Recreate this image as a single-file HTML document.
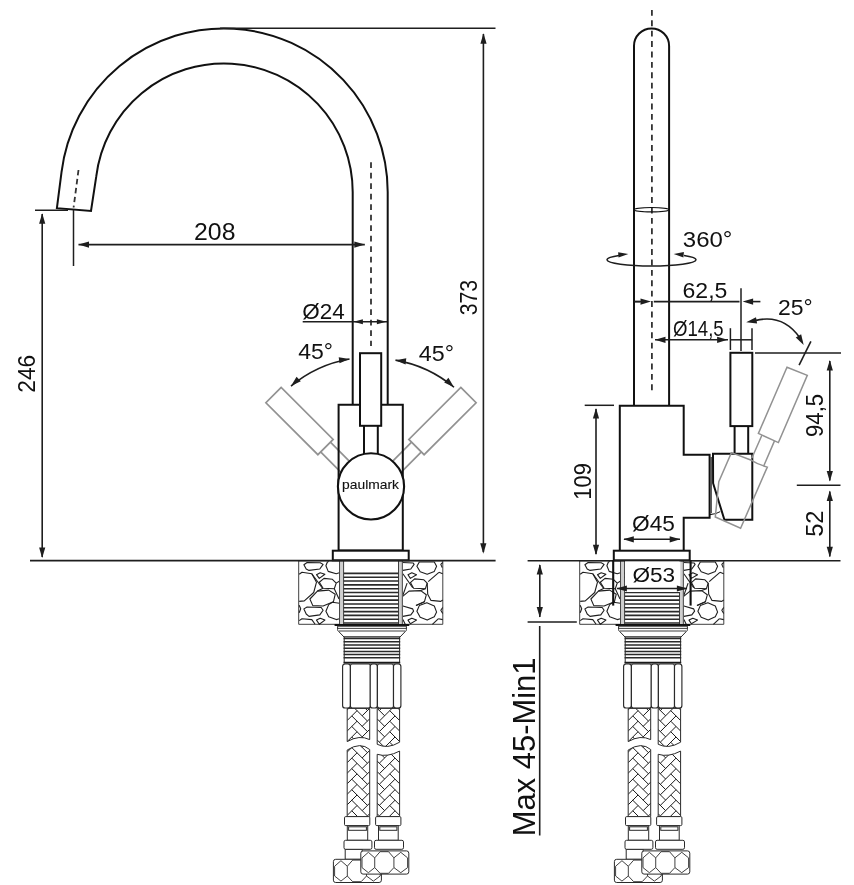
<!DOCTYPE html>
<html><head><meta charset="utf-8"><title>Faucet drawing</title>
<style>
html,body{margin:0;padding:0;background:#fff;}
svg{display:block;will-change:transform;}
text{font-family:"Liberation Sans",sans-serif;fill:#111;}
</style></head><body>
<svg width="854" height="885" viewBox="0 0 854 885">
<rect width="854" height="885" fill="#fff"/>
<path d="M387.70,404.8 L387.70,192.10 A163.7,163.7 0 0 0 61.52,172.15 L56.9,208.2 L91.0,211.0 L96.26,176.42 A128.7,128.7 0 0 1 352.70,192.10 L352.70,404.8" fill="none" stroke="#111" stroke-width="2" stroke-linejoin="miter"/>
<line x1="78.50" y1="170.00" x2="73.60" y2="207.50" stroke="#333" stroke-width="1.8" stroke-dasharray="5.5 3.5"/>
<line x1="371.00" y1="162.20" x2="371.00" y2="346.00" stroke="#333" stroke-width="1.8" stroke-dasharray="5.8 4.7"/>
<g fill="none" stroke="#929292" stroke-width="1.7"><path d="M281.19,387.46 L265.91,402.74 L317.89,454.71 L333.16,439.44 Z"/><path d="M330.40,442.19 L353.74,465.53 M320.64,451.95 L343.98,475.29"/></g>
<g fill="none" stroke="#929292" stroke-width="1.7"><path d="M460.81,387.46 L476.09,402.74 L424.11,454.71 L408.84,439.44 Z"/><path d="M411.60,442.19 L388.26,465.53 M421.36,451.95 L398.02,475.29"/></g>
<path d="M338.6,404.8 H402.8 V550.6 H338.6 Z" fill="none" stroke="#111" stroke-width="2"/>
<rect x="360" y="353.2" width="21.2" height="72.6" fill="#fff" stroke="#111" stroke-width="2"/>
<path d="M364.0,426 V454 M377.8,426 V454" stroke="#111" stroke-width="2" fill="none"/>
<circle cx="371" cy="486.4" r="33.1" fill="#fff" stroke="#111" stroke-width="2.1"/>
<text stroke="#111" stroke-width="0.12" transform="translate(342.11,488.80) scale(1.1523,1)" font-size="12">paulmark</text>
<g id="lower"><g transform="translate(298.7,560.8)" fill="none" stroke="#1e1e1e" stroke-width="1.1" stroke-linejoin="round"><rect x="0" y="0" width="40.8" height="63.5" fill="#fff" stroke="#2a2a2a" stroke-width="0.9"/><path d="M5.2,4.0 L8.4,1.7 L21.5,1.9 L24.4,3.6 L21.1,8.2 L10.3,9.6 L7.5,8.2 Z"/><path d="M30,0.6 L28.6,1.5 L27.2,5.0 L29.5,10.6 L37.5,12.9 L40.7,12.0"/><path d="M17.8,13.9 L21.5,12.0 L26.2,13.4 L20.6,17.6 Z"/><path d="M0.5,13.4 L3.3,11.5 L13.1,12.9 L17.8,21.4 L15.0,31.7 L5.6,40.1 L0.5,40.6"/><path d="M20.6,21.4 L25.3,17.6 L33.7,18.5 L37.5,22.3 L35.6,27.9 L24.4,27.4 Z"/><path d="M11.2,38.2 L18.7,30.3 L30.0,29.3 L36.5,33.5 L34.7,41.0 L24.4,45.2 L14.1,44.8 Z"/><path d="M40.7,42.4 L33.7,41.5 L30.0,43.8 L27.2,50.4 L30.0,56.0 L37.5,58.8 L40.7,57.9"/><path d="M5.2,48.1 L8.4,46.2 L22.5,46.7 L24.4,49.5 L21.1,54.1 L10.3,55.6 L7.5,53.2 Z"/><path d="M0.5,59.8 L3.3,57.9 L13.1,58.8 L16.4,63.5"/><path d="M17.8,59.3 L21.5,57.4 L26.2,59.3 L20.6,63.5 Z"/><path d="M0.5,44.5 L2,48 L0.5,52"/><path d="M13.1,12.9 L23.4,27.0"/><path d="M35.6,27.9 L40.3,38.2"/><path d="M37.5,22.3 L40.5,20.5"/><path d="M18.7,30.3 L24.4,27.4"/></g>
<g transform="translate(402.4,560.8)" fill="none" stroke="#1e1e1e" stroke-width="1.1" stroke-linejoin="round"><rect x="0" y="0" width="40.4" height="63.5" fill="#fff" stroke="#2a2a2a" stroke-width="0.9"/><path d="M0,1.7 L10.8,2.2 L11.7,3.6 L8.4,8.2 L0.5,9.6"/><path d="M14.5,5.4 L16.9,1.2 L31.9,1.2 L34.2,5.4 L31.9,10.6 L24.8,13.4 L17.8,11.0 Z"/><path d="M40.3,1.7 L38.4,3.6 L39.8,6.8"/><path d="M5.6,13.9 L9.4,12.0 L14.1,13.9 L8.0,17.6 Z"/><path d="M8.0,21.8 L12.2,18.1 L21.5,19.0 L24.8,22.3 L23.0,27.9 L11.2,27.4 Z"/><path d="M24.8,22.3 L25.3,33.5 L28.6,39.6 L38.4,40.6 L40.3,39.2"/><path d="M0,35.9 L6.6,30.3 L18.3,29.8 L23.9,34.0 L22.0,41.0 L13.6,44.8"/><path d="M14.5,50.4 L16.9,44.8 L24.4,42.0 L31.9,45.2 L34.2,51.3 L31.9,56.0 L24.8,59.3 L17.8,56.5 Z"/><path d="M0.5,45.2 L10.3,48.1 L11.2,50.4 L8.4,54.1 L0.5,55.6"/><path d="M40.3,46.7 L38.4,49.5 L40.3,52.7"/><path d="M5.6,59.3 L9.4,57.4 L14.1,59.3 L8.0,63 Z"/><path d="M0.5,12.9 L10.3,27.0"/><path d="M25.8,20.9 L36.5,11.5"/><path d="M36.5,11.5 L40.3,12.9"/><path d="M4.7,22.3 L0.5,34.5"/><path d="M30.0,63.5 L36.1,57.9"/><path d="M36.1,57.9 L40.3,58.8"/><path d="M0.5,58.8 L2.8,63.5"/><path d="M22.0,41.0 L13.6,44.8"/><path d="M18.3,29.8 L23.0,27.9"/></g>
<rect x="339.5" y="561" width="63.3" height="63.5" fill="#fff"/>
<rect x="340.6" y="561" width="3.2" height="63" fill="#cfcfcf"/>
<rect x="398.6" y="561" width="3.2" height="63" fill="#cfcfcf"/>
<line x1="339.70" y1="561.00" x2="339.70" y2="624.00" stroke="#2a2a2a" stroke-width="0.9" />
<line x1="343.60" y1="561.00" x2="343.60" y2="624.00" stroke="#2a2a2a" stroke-width="0.9" />
<line x1="398.50" y1="561.00" x2="398.50" y2="624.00" stroke="#2a2a2a" stroke-width="0.9" />
<line x1="402.30" y1="561.00" x2="402.30" y2="624.00" stroke="#2a2a2a" stroke-width="0.9" />
<line x1="343.80" y1="573.40" x2="398.40" y2="573.40" stroke="#2a2a2a" stroke-width="1.6" />
<line x1="343.80" y1="577.22" x2="398.40" y2="577.22" stroke="#2a2a2a" stroke-width="1.6" />
<line x1="343.80" y1="581.04" x2="398.40" y2="581.04" stroke="#2a2a2a" stroke-width="1.6" />
<line x1="343.80" y1="584.86" x2="398.40" y2="584.86" stroke="#2a2a2a" stroke-width="1.6" />
<line x1="343.80" y1="588.68" x2="398.40" y2="588.68" stroke="#2a2a2a" stroke-width="1.6" />
<line x1="343.80" y1="592.50" x2="398.40" y2="592.50" stroke="#2a2a2a" stroke-width="1.6" />
<line x1="343.80" y1="596.32" x2="398.40" y2="596.32" stroke="#2a2a2a" stroke-width="1.6" />
<line x1="343.80" y1="600.14" x2="398.40" y2="600.14" stroke="#2a2a2a" stroke-width="1.6" />
<line x1="343.80" y1="603.96" x2="398.40" y2="603.96" stroke="#2a2a2a" stroke-width="1.6" />
<line x1="343.80" y1="607.78" x2="398.40" y2="607.78" stroke="#2a2a2a" stroke-width="1.6" />
<line x1="343.80" y1="611.60" x2="398.40" y2="611.60" stroke="#2a2a2a" stroke-width="1.6" />
<line x1="343.80" y1="615.42" x2="398.40" y2="615.42" stroke="#2a2a2a" stroke-width="1.6" />
<line x1="343.80" y1="619.24" x2="398.40" y2="619.24" stroke="#2a2a2a" stroke-width="1.6" />
<line x1="343.80" y1="623.06" x2="398.40" y2="623.06" stroke="#2a2a2a" stroke-width="1.6" />
<line x1="334.60" y1="625.00" x2="409.30" y2="625.00" stroke="#111" stroke-width="2.2" />
<path d="M337.6,626.2 H406.4 V629.6 Q406.4,630.8 405.4,631.4 L400,637 H344 L338.6,631.4 Q337.6,630.8 337.6,629.6 Z" fill="#fff" stroke="#2a2a2a" stroke-width="1"/>
<line x1="337.80" y1="628.40" x2="406.20" y2="628.40" stroke="#2a2a2a" stroke-width="0.9" />
<line x1="338.80" y1="631.00" x2="405.20" y2="631.00" stroke="#2a2a2a" stroke-width="0.9" />
<rect x="344.2" y="637" width="55.4" height="25.8" fill="#fff" stroke="#2a2a2a" stroke-width="1"/>
<line x1="343.60" y1="638.60" x2="400.20" y2="638.60" stroke="#2a2a2a" stroke-width="1.5" />
<line x1="343.60" y1="641.80" x2="400.20" y2="641.80" stroke="#2a2a2a" stroke-width="1.5" />
<line x1="343.60" y1="645.00" x2="400.20" y2="645.00" stroke="#2a2a2a" stroke-width="1.5" />
<line x1="343.60" y1="648.20" x2="400.20" y2="648.20" stroke="#2a2a2a" stroke-width="1.5" />
<line x1="343.60" y1="651.40" x2="400.20" y2="651.40" stroke="#2a2a2a" stroke-width="1.5" />
<line x1="343.60" y1="654.60" x2="400.20" y2="654.60" stroke="#2a2a2a" stroke-width="1.5" />
<line x1="343.60" y1="657.80" x2="400.20" y2="657.80" stroke="#2a2a2a" stroke-width="1.5" />
<line x1="343.60" y1="662.60" x2="400.20" y2="662.60" stroke="#1a1a1a" stroke-width="1.7" />
<rect x="342.6" y="664" width="7.80" height="44" rx="2.6" fill="#fff" stroke="#2a2a2a" stroke-width="1.15"/>
<rect x="350.4" y="664" width="20.00" height="44" rx="2.0" fill="#fff" stroke="#2a2a2a" stroke-width="1.15"/>
<rect x="370.2" y="664" width="7.20" height="44" rx="2.6" fill="#fff" stroke="#2a2a2a" stroke-width="1.15"/>
<rect x="377.4" y="664" width="16.10" height="44" rx="2.0" fill="#fff" stroke="#2a2a2a" stroke-width="1.15"/>
<rect x="393.5" y="664" width="7.40" height="44" rx="2.6" fill="#fff" stroke="#2a2a2a" stroke-width="1.15"/>
<clipPath id="hcL"><path d="M347.2,708.4 H369.7 V739.6 Q359.45,734.5 347.2,741.6 Z M347.2,750 Q360.45,741.5 369.7,749.5 V816.6 H347.2 Z"/></clipPath><g clip-path="url(#hcL)"><rect x="347.2" y="708.4" width="22.5" height="108.20000000000005" fill="#fff"/><g stroke="#1a1a1a" stroke-width="1" fill="none"><path d="M347.20,688.88 L357.05,679.03"/><path d="M351.78,684.31 L367.43,699.96"/><path d="M362.16,694.72 L369.70,687.18"/><path d="M347.20,699.42 L357.05,689.57"/><path d="M351.78,694.85 L367.43,710.50"/><path d="M362.16,705.26 L369.70,697.72"/><path d="M347.20,709.96 L357.05,700.11"/><path d="M351.78,705.39 L367.43,721.04"/><path d="M362.16,715.80 L369.70,708.26"/><path d="M347.20,720.50 L357.05,710.65"/><path d="M351.78,715.93 L367.43,731.58"/><path d="M362.16,726.34 L369.70,718.80"/><path d="M347.20,731.04 L357.05,721.19"/><path d="M351.78,726.47 L367.43,742.12"/><path d="M362.16,736.88 L369.70,729.34"/><path d="M347.20,741.58 L357.05,731.73"/><path d="M351.78,737.01 L367.43,752.66"/><path d="M362.16,747.42 L369.70,739.88"/><path d="M347.20,752.12 L357.05,742.27"/><path d="M351.78,747.55 L367.43,763.20"/><path d="M362.16,757.96 L369.70,750.42"/><path d="M347.20,762.66 L357.05,752.81"/><path d="M351.78,758.09 L367.43,773.74"/><path d="M362.16,768.50 L369.70,760.96"/><path d="M347.20,773.20 L357.05,763.35"/><path d="M351.78,768.63 L367.43,784.28"/><path d="M362.16,779.04 L369.70,771.50"/><path d="M347.20,783.74 L357.05,773.89"/><path d="M351.78,779.17 L367.43,794.82"/><path d="M362.16,789.58 L369.70,782.04"/><path d="M347.20,794.28 L357.05,784.43"/><path d="M351.78,789.71 L367.43,805.36"/><path d="M362.16,800.12 L369.70,792.58"/><path d="M347.20,804.82 L357.05,794.97"/><path d="M351.78,800.25 L367.43,815.90"/><path d="M362.16,810.66 L369.70,803.12"/><path d="M347.20,815.36 L357.05,805.51"/><path d="M351.78,810.79 L367.43,826.44"/><path d="M362.16,821.20 L369.70,813.66"/><path d="M347.20,825.90 L357.05,816.05"/><path d="M351.78,821.33 L367.43,836.98"/><path d="M362.16,831.74 L369.70,824.20"/><path d="M347.20,836.44 L357.05,826.59"/><path d="M351.78,831.87 L367.43,847.52"/><path d="M362.16,842.28 L369.70,834.74"/><path d="M347.20,846.98 L357.05,837.13"/><path d="M351.78,842.41 L367.43,858.06"/><path d="M362.16,852.82 L369.70,845.28"/></g></g><path d="M347.2,708.4 H369.7 V739.6 Q359.45,734.5 347.2,741.6 Z M347.2,750 Q360.45,741.5 369.7,749.5 V816.6 H347.2 Z" fill="none" stroke="#2a2a2a" stroke-width="1"/>
<clipPath id="hcR"><path d="M377.2,708.4 H399.6 V742.2 Q387.4,749.5 377.2,744.3 Z M377.2,754.3 Q387.4,757.5 399.6,751.1 V816.6 H377.2 Z"/></clipPath><g clip-path="url(#hcR)"><rect x="377.2" y="708.4" width="22.400000000000034" height="108.20000000000005" fill="#fff"/><g stroke="#1a1a1a" stroke-width="1" fill="none"><path d="M399.60,688.88 L389.75,679.03"/><path d="M395.02,684.31 L379.37,699.96"/><path d="M384.64,694.72 L377.20,687.28"/><path d="M399.60,699.42 L389.75,689.57"/><path d="M395.02,694.85 L379.37,710.50"/><path d="M384.64,705.26 L377.20,697.82"/><path d="M399.60,709.96 L389.75,700.11"/><path d="M395.02,705.39 L379.37,721.04"/><path d="M384.64,715.80 L377.20,708.36"/><path d="M399.60,720.50 L389.75,710.65"/><path d="M395.02,715.93 L379.37,731.58"/><path d="M384.64,726.34 L377.20,718.90"/><path d="M399.60,731.04 L389.75,721.19"/><path d="M395.02,726.47 L379.37,742.12"/><path d="M384.64,736.88 L377.20,729.44"/><path d="M399.60,741.58 L389.75,731.73"/><path d="M395.02,737.01 L379.37,752.66"/><path d="M384.64,747.42 L377.20,739.98"/><path d="M399.60,752.12 L389.75,742.27"/><path d="M395.02,747.55 L379.37,763.20"/><path d="M384.64,757.96 L377.20,750.52"/><path d="M399.60,762.66 L389.75,752.81"/><path d="M395.02,758.09 L379.37,773.74"/><path d="M384.64,768.50 L377.20,761.06"/><path d="M399.60,773.20 L389.75,763.35"/><path d="M395.02,768.63 L379.37,784.28"/><path d="M384.64,779.04 L377.20,771.60"/><path d="M399.60,783.74 L389.75,773.89"/><path d="M395.02,779.17 L379.37,794.82"/><path d="M384.64,789.58 L377.20,782.14"/><path d="M399.60,794.28 L389.75,784.43"/><path d="M395.02,789.71 L379.37,805.36"/><path d="M384.64,800.12 L377.20,792.68"/><path d="M399.60,804.82 L389.75,794.97"/><path d="M395.02,800.25 L379.37,815.90"/><path d="M384.64,810.66 L377.20,803.22"/><path d="M399.60,815.36 L389.75,805.51"/><path d="M395.02,810.79 L379.37,826.44"/><path d="M384.64,821.20 L377.20,813.76"/><path d="M399.60,825.90 L389.75,816.05"/><path d="M395.02,821.33 L379.37,836.98"/><path d="M384.64,831.74 L377.20,824.30"/><path d="M399.60,836.44 L389.75,826.59"/><path d="M395.02,831.87 L379.37,847.52"/><path d="M384.64,842.28 L377.20,834.84"/><path d="M399.60,846.98 L389.75,837.13"/><path d="M395.02,842.41 L379.37,858.06"/><path d="M384.64,852.82 L377.20,845.38"/></g></g><path d="M377.2,708.4 H399.6 V742.2 Q387.4,749.5 377.2,744.3 Z M377.2,754.3 Q387.4,757.5 399.6,751.1 V816.6 H377.2 Z" fill="none" stroke="#2a2a2a" stroke-width="1"/>
<rect x="345.2" y="849.3" width="17" height="10" fill="#fff" stroke="#2a2a2a" stroke-width="1"/>
<rect x="333.4" y="859.3" width="48" height="23.2" rx="2.3" fill="#fff" stroke="#2a2a2a" stroke-width="1"/><path d="M334.59999999999997,866.26 L340.96,860.6999999999999 L347.32,866.26 V876.0039999999999 L340.96,881.1 L334.59999999999997,876.0039999999999 Z M347.32,866.26 L352.69599999999997,860.0999999999999 H361.144 L366.52,866.26 V876.0039999999999 L361.144,881.7 H352.69599999999997 L347.32,876.0039999999999 M366.52,866.26 L373.36,860.6999999999999 L380.2,866.26 V876.0039999999999 L373.36,881.1 L366.52,876.0039999999999 " fill="none" stroke="#2a2a2a" stroke-width="0.9" stroke-linejoin="round"/>
<rect x="347.3" y="825.6" width="20.40" height="14.7" fill="#fff" stroke="#2a2a2a" stroke-width="1"/>
<rect x="348.6" y="826.8" width="17.80" height="3.5" fill="#fff" stroke="#2a2a2a" stroke-width="1"/>
<rect x="344.5" y="816.6" width="25.30" height="9" rx="1.2" fill="#fff" stroke="#2a2a2a" stroke-width="1"/>
<rect x="344.0" y="840.3" width="27.90" height="9" rx="1.6" fill="#fff" stroke="#2a2a2a" stroke-width="1"/>
<rect x="378.5" y="825.6" width="19.70" height="14.7" fill="#fff" stroke="#2a2a2a" stroke-width="1"/>
<rect x="379.8" y="826.8" width="17.10" height="3.5" fill="#fff" stroke="#2a2a2a" stroke-width="1"/>
<rect x="375.6" y="816.6" width="25.30" height="9" rx="1.2" fill="#fff" stroke="#2a2a2a" stroke-width="1"/>
<rect x="374.5" y="840.3" width="29.00" height="9" rx="1.6" fill="#fff" stroke="#2a2a2a" stroke-width="1"/>
<rect x="360.8" y="850.9" width="48" height="23.2" rx="2.3" fill="#fff" stroke="#2a2a2a" stroke-width="1"/><path d="M362.0,857.86 L368.36,852.3 L374.72,857.86 V867.6039999999999 L368.36,872.7 L362.0,867.6039999999999 Z M374.72,857.86 L380.096,851.6999999999999 H388.54400000000004 L393.92,857.86 V867.6039999999999 L388.54400000000004,873.3000000000001 H380.096 L374.72,867.6039999999999 M393.92,857.86 L400.76,852.3 L407.6,857.86 V867.6039999999999 L400.76,872.7 L393.92,867.6039999999999 " fill="none" stroke="#2a2a2a" stroke-width="0.9" stroke-linejoin="round"/></g>
<rect x="332.8" y="550.7" width="75.9" height="9.6" fill="#fff" stroke="#111" stroke-width="2"/>
<line x1="30.00" y1="560.60" x2="495.60" y2="560.60" stroke="#1e1e1e" stroke-width="1.6" />
<line x1="73.50" y1="210.00" x2="73.50" y2="266.00" stroke="#1e1e1e" stroke-width="1.5" />
<line x1="78.50" y1="244.60" x2="364.80" y2="244.60" stroke="#1e1e1e" stroke-width="1.6" />
<polygon points="78.50,244.60 89.00,241.50 89.00,247.70" fill="#1e1e1e"/>
<polygon points="364.80,244.60 354.30,247.70 354.30,241.50" fill="#1e1e1e"/>
<text transform="translate(194.05,239.50) scale(1.0611,1)" font-size="23.4">208</text>
<line x1="35.00" y1="210.30" x2="68.00" y2="210.30" stroke="#1e1e1e" stroke-width="1.5" />
<line x1="42.20" y1="214.00" x2="42.20" y2="557.00" stroke="#1e1e1e" stroke-width="1.6" />
<polygon points="42.20,213.30 45.30,223.80 39.10,223.80" fill="#1e1e1e"/>
<polygon points="42.20,558.00 39.10,547.50 45.30,547.50" fill="#1e1e1e"/>
<text transform="translate(35.30,392.74) rotate(-90) scale(0.9719,1)" font-size="23.4">246</text>
<line x1="220.00" y1="28.20" x2="495.50" y2="28.20" stroke="#1e1e1e" stroke-width="1.6" />
<line x1="483.40" y1="34.00" x2="483.40" y2="552.00" stroke="#1e1e1e" stroke-width="1.6" />
<polygon points="483.50,33.20 486.60,43.70 480.40,43.70" fill="#1e1e1e"/>
<polygon points="483.30,553.70 480.20,543.20 486.40,543.20" fill="#1e1e1e"/>
<text transform="translate(477.20,315.31) rotate(-90) scale(0.9078,1)" font-size="23.4">373</text>
<line x1="302.70" y1="321.80" x2="352.40" y2="321.80" stroke="#1e1e1e" stroke-width="1.5" />
<line x1="353.00" y1="321.80" x2="387.00" y2="321.80" stroke="#1e1e1e" stroke-width="1.5" />
<polygon points="353.40,321.80 362.90,319.30 362.90,324.30" fill="#1e1e1e"/>
<polygon points="386.40,321.80 376.90,324.30 376.90,319.30" fill="#1e1e1e"/>
<text transform="translate(302.22,319.00) scale(1.0068,1)" font-size="22.3">Ø24</text>
<path d="M349.51,358.96 A125.0,125.0 0 0 0 290.99,386.06" fill="none" stroke="#1e1e1e" stroke-width="1.6"/><polygon points="349.51,358.96 339.46,363.30 338.71,357.15" fill="#1e1e1e"/><polygon points="290.99,386.06 296.58,376.66 300.80,381.20" fill="#1e1e1e"/>
<path d="M395.49,360.16 A125.0,125.0 0 0 1 454.01,387.26" fill="none" stroke="#1e1e1e" stroke-width="1.6"/><polygon points="395.49,360.16 406.29,358.35 405.54,364.50" fill="#1e1e1e"/><polygon points="454.01,387.26 444.20,382.40 448.42,377.86" fill="#1e1e1e"/>
<text transform="translate(298.17,359.00) scale(1.0560,1)" font-size="21.8">45°</text>
<text transform="translate(418.87,361.00) scale(1.0688,1)" font-size="21.8">45°</text>
<use href="#lower" transform="translate(281.0,0)"/>
<path d="M634,405 V45.9 A17.55,17.55 0 0 1 669.1,45.9 V405" fill="none" stroke="#111" stroke-width="2"/>
<line x1="651.90" y1="9.90" x2="651.90" y2="393.00" stroke="#333" stroke-width="1.8" stroke-dasharray="5.9 4.5"/>
<ellipse cx="651.5" cy="209.7" rx="17.2" ry="2.2" fill="none" stroke="#111" stroke-width="1.1"/>
<path d="M619.0,255.40 A44.5,6.3 0 1 0 684.0,255.40" fill="none" stroke="#1e1e1e" stroke-width="1.5"/>
<polygon points="628.30,254.02 618.57,257.59 618.10,252.21" fill="#1e1e1e"/>
<polygon points="673.70,253.94 683.90,252.12 683.43,257.50" fill="#1e1e1e"/>
<text transform="translate(682.79,246.80) scale(1.0576,1)" font-size="22.7">360°</text>
<path d="M619.8,550.4 V405.8 H683.7 V454.7 H709.6 V517.8 H683.7 V550.4" fill="none" stroke="#111" stroke-width="2"/>
<rect x="613.8" y="550.7" width="75.9" height="9.6" fill="#fff" stroke="#111" stroke-width="2"/>
<line x1="527.60" y1="560.70" x2="840.50" y2="560.70" stroke="#1e1e1e" stroke-width="1.6" />
<line x1="711.20" y1="457.00" x2="711.20" y2="513.00" stroke="#111" stroke-width="1" />
<path d="M709.7,514.6 Q716,514.2 720.2,511.6" fill="none" stroke="#111" stroke-width="1.1"/>
<path d="M713,453.8 H752.3 V519.8 H724.4 L713.1,483.2 Z" fill="none" stroke="#111" stroke-width="2" stroke-linejoin="miter"/>
<rect x="730.4" y="352.8" width="21.9" height="73.3" fill="#fff" stroke="#111" stroke-width="2"/>
<path d="M734.6,426.3 V453.5 M748.2,426.3 V453.5" stroke="#111" stroke-width="2" fill="none"/>
<g fill="none" stroke="#929292" stroke-width="1.5" stroke-linejoin="miter"><path d="M787,367.2 L807.3,375.4 L778.4,442.6 L758.4,433.4 Z"/><path d="M761.9,435.2 L751.8,458.2 M774.5,440.9 L763.8,465.7"/><path d="M731.4,452.6 L752,460.5 Q757,464 767.3,467.1 L740.6,528.2 L715.3,517 L718.8,481.8 Z"/></g>
<line x1="741.00" y1="288.20" x2="741.00" y2="351.00" stroke="#1e1e1e" stroke-width="1.5" />
<line x1="634.50" y1="301.60" x2="640.00" y2="301.60" stroke="#1e1e1e" stroke-width="1.6" />
<line x1="653.80" y1="301.60" x2="739.50" y2="301.60" stroke="#1e1e1e" stroke-width="1.6" />
<polygon points="651.00,301.60 640.50,304.70 640.50,298.50" fill="#1e1e1e"/>
<line x1="634.30" y1="301.60" x2="642.00" y2="301.60" stroke="#1e1e1e" stroke-width="1.6" />
<polygon points="742.60,301.60 753.10,298.50 753.10,304.70" fill="#1e1e1e"/>
<line x1="752.00" y1="301.60" x2="760.40" y2="301.60" stroke="#1e1e1e" stroke-width="1.6" />
<text transform="translate(682.53,297.90) scale(1.0149,1)" font-size="22.7">62,5</text>
<line x1="655.00" y1="339.80" x2="728.00" y2="339.80" stroke="#1e1e1e" stroke-width="1.6" />
<polygon points="655.00,339.80 665.50,336.70 665.50,342.90" fill="#1e1e1e"/>
<polygon points="727.60,339.80 717.10,342.90 717.10,336.70" fill="#1e1e1e"/>
<line x1="730.20" y1="339.80" x2="752.20" y2="339.80" stroke="#1e1e1e" stroke-width="1.5" />
<line x1="730.40" y1="328.20" x2="730.40" y2="350.00" stroke="#1e1e1e" stroke-width="1.5" />
<line x1="752.00" y1="328.20" x2="752.00" y2="350.00" stroke="#1e1e1e" stroke-width="1.5" />
<text transform="translate(673.06,335.70) scale(0.8259,1)" font-size="22.5">Ø14,5</text>
<path d="M755,320.6 Q783,313.5 800,338" fill="none" stroke="#1e1e1e" stroke-width="1.6"/>
<polygon points="746.20,322.20 756.00,317.32 757.08,323.43" fill="#1e1e1e"/>
<polygon points="803.70,345.00 795.77,337.46 801.13,334.36" fill="#1e1e1e"/>
<line x1="810.90" y1="341.40" x2="799.10" y2="365.10" stroke="#1e1e1e" stroke-width="1.6" />
<text transform="translate(778.04,314.90) scale(1.0074,1)" font-size="22.8">25°</text>
<line x1="755.00" y1="353.10" x2="841.00" y2="353.10" stroke="#1e1e1e" stroke-width="1.5" />
<line x1="796.80" y1="485.30" x2="840.50" y2="485.30" stroke="#1e1e1e" stroke-width="1.5" />
<line x1="829.80" y1="361.00" x2="829.80" y2="480.50" stroke="#1e1e1e" stroke-width="1.6" />
<polygon points="829.80,360.00 832.90,370.50 826.70,370.50" fill="#1e1e1e"/>
<polygon points="829.80,481.40 826.70,470.90 832.90,470.90" fill="#1e1e1e"/>
<line x1="829.80" y1="491.50" x2="829.80" y2="556.50" stroke="#1e1e1e" stroke-width="1.6" />
<polygon points="829.80,490.60 832.90,501.10 826.70,501.10" fill="#1e1e1e"/>
<polygon points="829.80,557.30 826.70,546.80 832.90,546.80" fill="#1e1e1e"/>
<text transform="translate(823.00,436.94) rotate(-90) scale(0.9456,1)" font-size="23.4">94,5</text>
<text transform="translate(823.00,536.85) rotate(-90) scale(1.0161,1)" font-size="23.4">52</text>
<line x1="584.70" y1="405.30" x2="614.00" y2="405.30" stroke="#1e1e1e" stroke-width="1.5" />
<line x1="596.00" y1="409.00" x2="596.00" y2="554.00" stroke="#1e1e1e" stroke-width="1.6" />
<polygon points="596.00,408.00 599.10,418.50 592.90,418.50" fill="#1e1e1e"/>
<polygon points="596.00,555.20 592.90,544.70 599.10,544.70" fill="#1e1e1e"/>
<text transform="translate(591.10,499.67) rotate(-90) scale(0.9350,1)" font-size="23.4">109</text>
<line x1="624.00" y1="539.30" x2="680.00" y2="539.30" stroke="#1e1e1e" stroke-width="1.6" />
<polygon points="623.30,539.30 633.80,536.20 633.80,542.40" fill="#1e1e1e"/>
<polygon points="680.20,539.30 669.70,542.40 669.70,536.20" fill="#1e1e1e"/>
<text transform="translate(632.11,531.00) scale(1.0396,1)" font-size="21.8">Ø45</text>
<rect x="629" y="564" width="49" height="21" fill="#fff"/>
<rect x="625" y="561.5" width="55.3" height="30.5" fill="#fff"/>
<line x1="613.20" y1="560.00" x2="613.20" y2="605.60" stroke="#111" stroke-width="2.1" />
<line x1="690.60" y1="560.00" x2="690.60" y2="605.60" stroke="#111" stroke-width="2.1" />
<line x1="617.00" y1="588.50" x2="687.00" y2="588.50" stroke="#1e1e1e" stroke-width="1.6" />
<polygon points="616.40,588.50 626.90,585.40 626.90,591.60" fill="#1e1e1e"/>
<polygon points="687.40,588.50 676.90,591.60 676.90,585.40" fill="#1e1e1e"/>
<text transform="translate(632.42,581.50) scale(1.0881,1)" font-size="20.8">Ø53</text>
<line x1="527.60" y1="622.00" x2="576.80" y2="622.00" stroke="#1e1e1e" stroke-width="1.5" />
<line x1="539.80" y1="565.00" x2="539.80" y2="617.00" stroke="#1e1e1e" stroke-width="1.6" />
<polygon points="539.80,564.00 542.90,574.50 536.70,574.50" fill="#1e1e1e"/>
<polygon points="539.80,617.60 536.70,607.10 542.90,607.10" fill="#1e1e1e"/>
<line x1="539.70" y1="626.00" x2="539.70" y2="835.50" stroke="#1e1e1e" stroke-width="1.6" />
<text transform="translate(534.50,836.24) rotate(-90) scale(1.0107,1)" font-size="30.6">Max 45-Min1</text>
</svg>
</body></html>
